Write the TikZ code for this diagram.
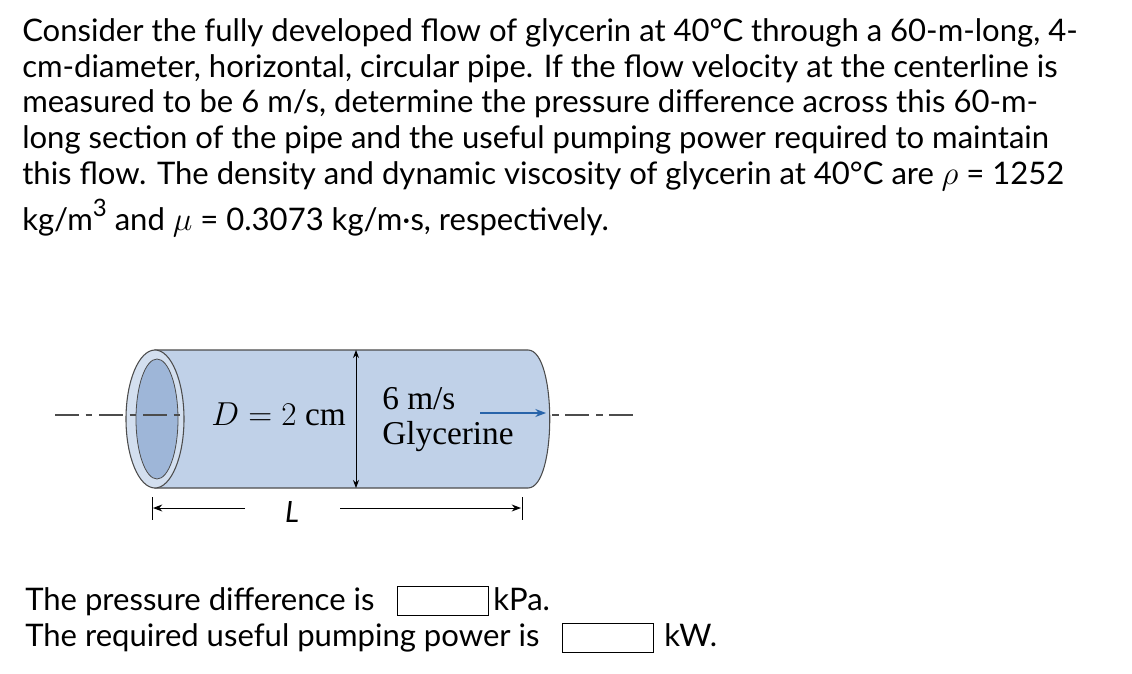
\documentclass[tikz,border=0pt]{standalone}
\usepackage{fontspec}
\usetikzlibrary{arrows.meta}
\setmainfont{Liberation Serif}
\newfontfamily\qfont{Lato}
\begin{document}
\begin{tikzpicture}[x=0.75pt,y=-0.75pt,
  qtext/.style={anchor=base west,inner sep=0pt,font=\qfont\fontsize{23.3}{26}\selectfont},
  lbl/.style={inner sep=0pt,font=\fontsize{25}{28}\selectfont},
  ansbox/.style={draw,line width=0.9pt,minimum width=68pt,minimum height=22pt,inner sep=0pt}]
\definecolor{pipe}{RGB}{192,209,232}
\definecolor{pipein}{RGB}{158,182,216}
\definecolor{arr}{RGB}{40,100,170}
\useasboundingbox (0,0) rectangle (1132,674);
\node[qtext] (l1) at (22,42) {Consider the fully developed flow of glycerin at 40°C through a 60-m-long, 4-};
\node[qtext] (l2) at (22,78) {cm-diameter, horizontal, circular pipe. If the flow velocity at the centerline is};
\node[qtext] (l3) at (22,113) {measured to be 6 m/s, determine the pressure difference across this 60-m-};
\node[qtext] (l4) at (22,148) {long section of the pipe and the useful pumping power required to maintain};
\node[qtext] (l5) at (22,184) {this flow. The density and dynamic viscosity of glycerin at 40°C are $\rho$ = 1252};
\node[qtext] (l6) at (22,230) {kg/m\raisebox{0.45em}{\fontsize{18}{18}\selectfont 3} and $\mu$ = 0.3073 kg/m·s, respectively.};
% pipe
\fill[pipe,draw=black!70,line width=0.8pt] (155,350) -- (528,350) .. controls (557,350) and (557,488) .. (528,488) -- (155,488) -- cycle;
\draw[black!70,line width=0.8pt,fill=pipe!70!white] (155,419) ellipse[x radius=29,y radius=69];
\draw[black!70,line width=0.6pt,fill=pipein] (157,419) ellipse[x radius=21,y radius=60];
% centerline
\draw[black!70,line width=0.8pt,dash pattern=on 18pt off 5pt on 5pt off 5pt] (55,415) -- (185,415);
\draw[black!70,line width=0.8pt,dash pattern=on 5pt off 5pt on 18pt off 5pt] (552,415) -- (635,415);
% diameter
\coordinate (dt) at (356,350); \coordinate (db) at (356,488);
\draw[{Stealth[length=6pt]}-{Stealth[length=6pt]},line width=0.7pt] (dt) -- (db);
\node[lbl,anchor=east] (D) at (346,414) {$D = 2$ cm};
\node[lbl,anchor=west] (v) at (382,399) {6 m/s};
\node[lbl,anchor=west] (g) at (382,437) {Glycerine};
\coordinate (a1) at (480,413); \coordinate (a2) at (546,413);
\draw[-{Stealth[length=8pt,width=6pt]},arr,line width=1pt] (a1) -- (a2);
% length
\coordinate (t1a) at (152,497); \coordinate (t1b) at (152,520);
\coordinate (t2a) at (522,497); \coordinate (t2b) at (522,520);
\draw[line width=0.7pt] (t1a) -- (t1b); \draw[line width=0.7pt] (t2a) -- (t2b);
\node[inner sep=0pt,font=\qfont\itshape\fontsize{22}{24}\selectfont] (L) at (292,512) {L};
\coordinate (p1) at (153,508); \coordinate (p2) at (521,508);
\coordinate (e1) at (245,508); \coordinate (e2) at (340,508);
\draw[-{Stealth[length=7pt]},line width=0.7pt] (e1) -- (p1);
\draw[-{Stealth[length=7pt]},line width=0.7pt] (e2) -- (p2);
% answers
\node[qtext] (q1) at (25,610) {The pressure difference is};
\node[ansbox,anchor=west] (b1) at (397,601) {};
\node[qtext] (k1) at (493,610) {kPa.};
\node[qtext] (q2) at (25,646) {The required useful pumping power is};
\node[ansbox,anchor=west] (b2) at (562,638) {};
\node[qtext] (k2) at (664,646) {kW.};
\end{tikzpicture}
\end{document}
